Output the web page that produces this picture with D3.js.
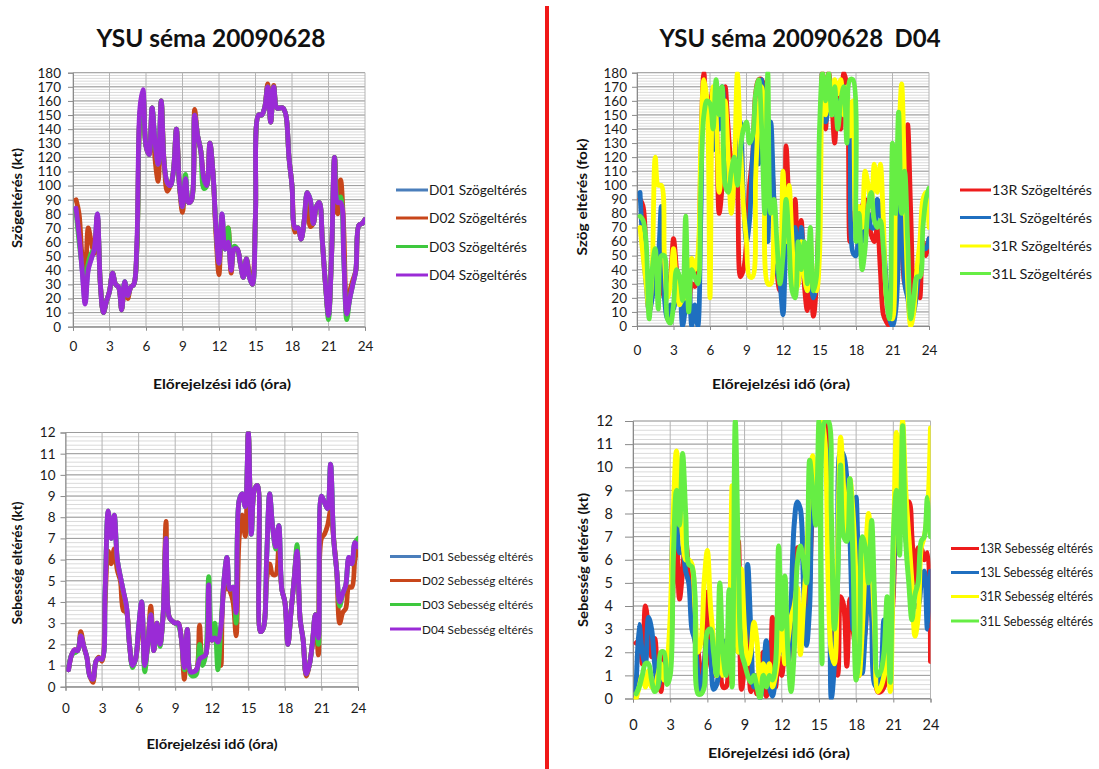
<!DOCTYPE html>
<html>
<head>
<meta charset="utf-8">
<script src="https://cdn.jsdelivr.net/npm/d3@7"></script>
<style>
  body { margin: 0; background: #fff; }
  svg { display: block; font-family: Lato, "Open Sans", "DejaVu Sans", sans-serif; }
</style>
</head>
<body>
<svg id="chart" width="1099" height="769"></svg>
<script>
// Forecast time axis: one sample every 15 minutes, 00:15 .. 24:00
const hours = d3.range(1, 97).map(i => i / 4);
const hourTicks = [0, 3, 6, 9, 12, 15, 18, 21, 24];
const angleTicks = [0, 10, 20, 30, 40, 50, 60, 70, 80, 90, 100, 110, 120, 130, 140, 150, 160, 170, 180];
const speedTicks = [0, 1, 2, 3, 4, 5, 6, 7, 8, 9, 10, 11, 12];

// ---- Direction error per domain (D01..D04) ----
const d01Angle = [
  84, 66, 41, 17, 41, 48, 55, 80, 30, 10, 18, 25,
  38, 30, 28, 12, 32, 22, 28, 30, 55, 150, 165, 128,
  122, 155, 130, 115, 160, 115, 102, 100, 110, 140, 100, 85,
  105, 88, 90, 150, 135, 125, 105, 100, 130, 110, 70, 45,
  80, 55, 60, 40, 55, 55, 45, 35, 48, 35, 30, 80,
  150, 150, 155, 170, 145, 170, 155, 155, 155, 150, 120, 100,
  70, 70, 62, 75, 95, 90, 73, 85, 88, 60, 30, 8,
  50, 120, 88, 88, 50, 9, 20, 30, 40, 72, 73, 76
];
const d02Angle = [
  90, 80, 50, 38, 70, 60, 52, 78, 30, 10, 18, 25,
  38, 30, 28, 12, 30, 20, 28, 30, 55, 150, 165, 128,
  122, 155, 118, 103, 160, 115, 96, 100, 110, 140, 100, 81,
  100, 88, 90, 154, 135, 125, 105, 100, 130, 110, 65, 37,
  72, 60, 70, 38, 55, 55, 45, 35, 48, 38, 30, 80,
  150, 150, 155, 172, 145, 171, 155, 155, 155, 150, 120, 100,
  67, 70, 62, 75, 95, 71, 73, 85, 88, 60, 30, 8,
  50, 120, 80, 104, 70, 9, 25, 33, 40, 72, 73, 76
];
const d03Angle = [
  82, 60, 42, 28, 45, 52, 55, 78, 30, 10, 18, 25,
  38, 30, 28, 12, 32, 22, 28, 30, 55, 150, 165, 128,
  122, 155, 130, 115, 160, 115, 102, 100, 110, 140, 100, 85,
  108, 88, 90, 150, 135, 125, 98, 100, 130, 110, 70, 45,
  78, 55, 70, 42, 57, 55, 45, 35, 48, 35, 30, 80,
  150, 150, 155, 170, 145, 170, 155, 155, 155, 150, 120, 100,
  70, 70, 62, 75, 95, 90, 73, 85, 88, 60, 30, 5,
  50, 120, 88, 92, 50, 5, 20, 30, 40, 72, 73, 76
];
const d04Angle = [
  84, 65, 40, 16, 40, 48, 55, 80, 30, 10, 18, 25,
  38, 30, 28, 12, 32, 22, 28, 30, 60, 155, 168, 128,
  122, 155, 130, 115, 160, 115, 102, 100, 110, 140, 100, 85,
  105, 88, 90, 150, 135, 125, 105, 100, 130, 110, 70, 45,
  80, 55, 60, 40, 55, 55, 45, 35, 48, 35, 30, 80,
  150, 150, 155, 170, 145, 170, 155, 155, 155, 150, 120, 100,
  70, 70, 62, 75, 95, 90, 73, 85, 88, 60, 30, 8,
  50, 120, 88, 88, 50, 9, 20, 30, 40, 72, 73, 76
];

// ---- Speed error per domain (D01..D04) ----
const d01Speed = [
  0.8, 1.5, 1.7, 1.7, 2.4, 1.9, 1.4, 0.5, 0.35, 1.2, 1.35, 1.3,
  4.5, 8.2, 7.0, 8.0, 6.0, 5.2, 4.5, 3.8, 2.0, 1.0, 1.3, 2.8,
  4.0, 1.0, 2.0, 3.4, 1.7, 3.0, 2.0, 3.3, 7.0, 3.3, 3.1, 3.0,
  3.0, 2.3, 0.9, 2.7, 0.7, 0.7, 0.8, 1.3, 1.4, 1.5, 4.8, 2.2,
  2.3, 2.1, 2.8, 5.0, 6.1, 4.6, 4.7, 3.5, 8.8, 9.1, 8.5, 12,
  7.2, 9.3, 9.5, 2.6, 2.8, 6.0, 9.1, 7.5, 6.6, 7.6, 4.6, 4.0,
  2.0, 3.5, 5.0, 6.4, 3.2, 2.2, 0.6, 1.0, 2.0, 3.4, 2.3, 9.0,
  8.7, 8.4, 10.5, 7.0, 5.5, 4.0, 4.4, 4.8, 6.1, 5.8, 6.8, 6.6
];
const d02Speed = [
  0.8, 1.5, 1.75, 1.7, 2.6, 1.9, 1.4, 0.5, 0.2, 1.2, 1.4, 1.2,
  4.0, 6.4, 5.8, 6.5, 5.5, 5.0, 3.6, 3.5, 2.0, 1.0, 1.3, 2.5,
  3.8, 1.0, 2.0, 3.8, 1.7, 3.0, 2.0, 3.3, 7.8, 3.3, 3.1, 3.0,
  3.0, 2.3, 0.35, 2.7, 0.7, 0.7, 0.8, 2.9, 1.4, 1.5, 4.6, 2.2,
  2.3, 2.1, 1.0, 4.5, 4.7, 4.5, 4.0, 2.4, 7.0, 8.1, 7.1, 12,
  7.5, 9.3, 9.5, 2.6, 2.8, 5.0, 5.8, 5.3, 5.3, 6.5, 4.6, 4.0,
  2.0, 3.5, 5.0, 6.4, 3.2, 2.2, 0.5, 1.0, 2.0, 3.4, 1.5, 7.0,
  7.2, 7.6, 8.3, 7.0, 5.5, 3.0, 3.5, 3.7, 4.7, 4.7, 6.0, 6.6
];
const d03Speed = [
  0.8, 1.5, 1.6, 1.7, 2.4, 1.9, 1.4, 0.5, 0.35, 1.2, 1.35, 1.3,
  4.5, 8.3, 7.0, 8.1, 6.0, 5.2, 4.5, 3.8, 2.0, 0.9, 1.3, 2.8,
  4.0, 0.7, 2.0, 3.4, 1.7, 3.0, 1.9, 3.3, 7.0, 3.3, 3.1, 3.0,
  2.9, 2.3, 0.8, 2.7, 0.6, 0.5, 0.6, 2.0, 1.0, 1.5, 5.2, 2.2,
  3.0, 0.8, 2.8, 5.0, 6.1, 4.6, 4.7, 3.0, 8.8, 9.1, 8.5, 12,
  7.2, 9.3, 9.5, 2.6, 2.8, 6.0, 9.1, 7.5, 6.5, 7.6, 4.6, 4.0,
  2.0, 3.5, 5.0, 6.7, 3.2, 2.2, 0.6, 1.0, 2.0, 3.4, 2.0, 9.0,
  8.7, 8.4, 10.5, 7.0, 5.5, 3.8, 4.4, 4.8, 6.0, 5.8, 6.8, 7.0
];
const d04Speed = [
  0.8, 1.5, 1.75, 1.7, 2.4, 1.9, 1.4, 0.5, 0.35, 1.2, 1.35, 1.3,
  4.5, 8.3, 7.0, 8.1, 6.0, 5.2, 4.5, 3.8, 2.0, 1.0, 1.3, 2.8,
  4.0, 1.0, 2.0, 3.4, 1.7, 3.0, 2.0, 3.3, 7.0, 3.3, 3.1, 3.0,
  3.0, 2.3, 0.9, 2.7, 0.7, 0.7, 0.8, 1.3, 1.4, 1.5, 4.8, 2.2,
  2.3, 2.1, 2.8, 5.0, 6.1, 4.6, 4.7, 3.5, 8.8, 9.1, 8.5, 12,
  7.2, 9.3, 9.5, 2.6, 2.8, 6.0, 9.1, 7.5, 6.6, 7.6, 4.6, 4.0,
  2.0, 3.5, 5.0, 6.4, 3.2, 2.2, 0.6, 1.0, 2.0, 3.4, 2.3, 9.0,
  8.7, 8.4, 10.5, 7.0, 5.5, 4.0, 4.4, 4.8, 6.1, 5.8, 6.8, 6.6
];

// ---- Direction error per runway (D04) ----
const r13RAngle = [
  90, 85, 50, 10, 25, 45, 50, 40, 20, 25, 35, 62,
  40, 20, 25, 20, 15, 30, 28, 40, 120, 180, 160, 160,
  168, 150, 80, 100, 170, 140, 120, 118, 100, 35, 40, 60,
  100, 120, 165, 175, 175, 150, 100, 120, 90, 40, 25, 30,
  128, 80, 30, 90, 40, 75, 30, 11, 30, 7, 30, 100,
  180, 140, 180, 160, 130, 170, 140, 180, 170, 60, 80, 75,
  80, 85, 90, 80, 65, 60, 70, 40, 8, 3, 0, 10,
  40, 110, 60, 30, 143, 80, 20, 40, 20, 60, 50, 62
];
const r13LAngle = [
  95, 55, 30, 10, 20, 40, 50, 85, 20, 5, 15, 12,
  40, 30, 0, 15, 35, 0, 15, 0, 80, 170, 160, 150,
  125, 165, 140, 170, 140, 100, 110, 110, 120, 145, 90, 60,
  75, 120, 140, 115, 175, 130, 60, 145, 90, 40, 30, 8,
  60, 80, 40, 70, 30, 70, 40, 25, 30, 20, 30, 100,
  150, 145, 160, 170, 150, 160, 150, 170, 160, 140, 52, 50,
  70, 60, 80, 80, 70, 70, 90, 80, 60, 30, 5, 0,
  10, 50, 140, 30, 20, 5, 10, 25, 45, 55, 55, 62
];
const r31RAngle = [
  70, 50, 30, 10, 40, 120, 100, 100, 50, 20, 30, 55,
  30, 15, 20, 20, 40, 48, 40, 50, 130, 175, 160, 20,
  170, 150, 95, 120, 160, 120, 80, 110, 180, 130, 85, 60,
  35, 35, 105, 150, 170, 140, 30, 30, 80, 50, 40, 110,
  60, 100, 60, 25, 30, 60, 35, 25, 60, 30, 25, 50,
  170, 150, 170, 150, 175, 165, 175, 150, 170, 135, 160, 70,
  85, 70, 110, 100, 85, 115, 95, 115, 75, 20, 10, 5,
  90, 130, 172, 100, 30, 0, 10, 40, 60, 90, 95, 70
];
const r31LAngle = [
  78, 75, 60, 5, 40, 55, 12, 50, 50, 5, 2, 15,
  40, 35, 18, 78, 10, 40, 35, 30, 100, 150, 160, 158,
  140, 175, 150, 170, 100, 95, 110, 120, 100, 125, 140, 145,
  130, 135, 165, 175, 140, 80, 180, 80, 90, 60, 30, 50,
  90, 60, 25, 20, 60, 40, 60, 30, 70, 25, 35, 140,
  180, 160, 180, 150, 170, 140, 160, 170, 130, 175, 175, 60,
  80, 40, 55, 85, 95, 75, 70, 75, 55, 20, 5, 130,
  80, 152, 80, 110, 60, 5, 20, 35, 35, 70, 90, 98
];

// ---- Speed error per runway (D04) ----
const r13RSpeed = [
  2.4, 2.5, 1.5, 4.0, 3.0, 1.8, 2.6, 1.0, 0.3, 1.9, 1.2, 2.0,
  5.0, 7.5, 4.3, 5.5, 6.8, 5.5, 4.5, 2.5, 2.0, 1.0, 1.5, 4.6,
  1.5, 1.0, 1.5, 3.0, 0.5, 0.5, 2.0, 4.0, 4.5, 6.8, 0.4, 1.5,
  3.7, 0.3, 1.0, 0.2, 0.5, 2.0, 0.1, 0.5, 3.5, 0.5, 1.8, 1.0,
  2.0, 1.5, 3.5, 5.0, 6.5, 6.5, 6.0, 3.0, 5.0, 8.0, 8.5, 9.0,
  12, 12, 8.0, 5.0, 1.5, 1.0, 4.4, 4.0, 1.4, 4.3, 3.0, 2.0,
  1.0, 2.0, 3.0, 5.0, 5.0, 2.0, 0.3, 0.3, 0.5, 1.0, 2.5, 4.5,
  9.0, 10, 11, 8.5, 8.5, 7.0, 5.0, 6.5, 6.5, 6.0, 6.3, 1.6
];
const r13LSpeed = [
  0.3, 3.2, 2.0, 1.5, 3.5, 3.0, 1.5, 0.5, 1.0, 1.5, 1.0, 1.5,
  7.5, 8.0, 6.3, 6.5, 5.5, 5.0, 3.0, 2.5, 1.0, 0.2, 1.5, 2.5,
  2.0, 0.4, 0.6, 1.5, 2.0, 2.5, 1.5, 2.0, 3.0, 2.0, 3.7, 1.5,
  5.8, 3.0, 0.5, 1.0, 0.0, 1.0, 2.5, 0.5, 0.1, 1.0, 3.0, 2.0,
  3.0, 1.5, 4.0, 7.5, 8.5, 8.2, 5.0, 2.3, 4.0, 8.5, 9.0, 8.0,
  12, 11, 10.3, 0.0, 1.5, 5.0, 10.7, 10.5, 9.5, 7.0, 3.0, 8.7,
  4.0, 1.1, 3.0, 5.0, 3.5, 0.6, 0.5, 1.0, 3.4, 2.5, 3.0, 5.0,
  9.5, 10.3, 9.0, 7.0, 6.0, 5.0, 4.0, 4.0, 5.0, 5.5, 3.0, 5.5
];
const r31RSpeed = [
  0.0, 0.5, 1.0, 0.5, 1.2, 0.5, 0.5, 1.0, 1.5, 0.8, 1.5, 3.5,
  8.0, 10.7, 9.0, 7.0, 6.0, 6.0, 5.8, 4.0, 2.0, 2.5, 5.1, 6.4,
  4.0, 2.5, 1.0, 2.5, 1.0, 2.0, 3.0, 9.2, 4.0, 2.0, 5.6, 3.0,
  1.5, 2.0, 3.3, 2.5, 0.5, 1.5, 1.0, 1.5, 0.5, 1.0, 2.0, 3.8,
  1.5, 2.5, 3.5, 4.0, 4.8, 1.9, 4.0, 6.0, 9.0, 10.5, 7.8, 9.0,
  12, 11, 5.0, 2.0, 1.5, 6.0, 11.3, 9.0, 7.0, 9.5, 8.0, 5.0,
  1.0, 3.0, 6.0, 8.0, 6.0, 3.0, 0.3, 0.5, 1.0, 2.5, 0.3, 6.0,
  11.5, 8.0, 12, 9.0, 7.0, 5.0, 2.7, 3.5, 6.5, 7.0, 8.0, 11.7
];
const r31LSpeed = [
  0.2, 0.5, 1.0, 1.5, 1.5, 0.8, 0.3, 0.5, 2.0, 2.0, 0.6, 1.0,
  6.0, 9.0, 7.5, 10.6, 8.0, 5.8, 5.7, 4.5, 0.2, 0.2, 0.5, 2.9,
  3.0, 2.0, 1.0, 5.0, 2.0, 1.0, 4.7, 0.5, 12, 6.0, 2.0, 1.5,
  1.0, 0.7, 1.0, 0.5, 0.0, 1.0, 0.5, 1.0, 0.8, 1.5, 6.6, 3.0,
  5.3, 2.0, 0.3, 2.0, 5.8, 6.6, 6.0, 5.0, 10.3, 9.0, 7.5, 12,
  1.5, 12, 12, 8.0, 3.0, 5.0, 10.1, 7.0, 6.8, 9.5, 6.0, 0.8,
  2.0, 7.0, 6.5, 5.0, 7.7, 4.0, 1.0, 1.2, 2.0, 4.4, 0.7, 7.0,
  9.0, 6.2, 11.8, 6.8, 5.0, 3.4, 4.5, 5.0, 6.8, 7.0, 8.7, 7.0
];

const domainColors = ["#4a7ebb", "#c8461a", "#3ec83e", "#9a2bd6"];
const runwayColors = ["#ee1c1c", "#1f6fc0", "#ffff00", "#66ee44"];

const svg = d3.select("#chart");

// Divider between the two halves
svg.append("rect")
  .attr("x", 545).attr("y", 6).attr("width", 4).attr("height", 763)
  .attr("fill", "#f01818");

// Titles
svg.append("text").attr("x", 211).attr("y", 47).attr("text-anchor", "middle")
  .attr("font-size", 24).attr("font-weight", 700).attr("fill", "#111")
  .attr("textLength", 229).attr("lengthAdjust", "spacingAndGlyphs")
  .text("YSU séma 20090628");
svg.append("text").attr("x", 800).attr("y", 47).attr("text-anchor", "middle")
  .attr("font-size", 24).attr("font-weight", 700).attr("fill", "#111")
  .attr("textLength", 281).attr("lengthAdjust", "spacingAndGlyphs")
  .attr("xml:space", "preserve")
  .text("YSU séma 20090628  D04");

let clipId = 0;
function drawPanel(cfg) {
  const x = d3.scaleLinear().domain([0, 24]).range([cfg.x0, cfg.x1]);
  const y = d3.scaleLinear().domain([0, cfg.yMax]).range([cfg.y1, cfg.y0]);
  const g = svg.append("g");

  // minor horizontal grid
  const nMinor = Math.round(cfg.yMax / cfg.minor);
  g.append("g").selectAll("line")
    .data(d3.range(0, nMinor + 1).map(i => i * cfg.minor))
    .join("line")
    .attr("x1", cfg.x0).attr("x2", cfg.x1)
    .attr("y1", d => y(d)).attr("y2", d => y(d))
    .attr("stroke", "#dadada").attr("stroke-width", 1);
  // major horizontal grid
  g.append("g").selectAll("line")
    .data(cfg.yTicks)
    .join("line")
    .attr("x1", cfg.x0).attr("x2", cfg.x1)
    .attr("y1", d => y(d)).attr("y2", d => y(d))
    .attr("stroke", "#9c9c9c").attr("stroke-width", 1);
  // vertical grid
  g.append("g").selectAll("line")
    .data(hourTicks)
    .join("line")
    .attr("x1", d => x(d)).attr("x2", d => x(d))
    .attr("y1", cfg.y0).attr("y2", cfg.y1)
    .attr("stroke", "#b4b4b4").attr("stroke-width", 1);

  // axes
  const yAxis = g.append("g").attr("transform", `translate(${cfg.x0},0)`)
    .call(d3.axisLeft(y).tickValues(cfg.yTicks).tickSize(cfg.tickLen).tickPadding(cfg.yPad).tickFormat(d3.format("d")));
  const xAxis = g.append("g").attr("transform", `translate(0,${cfg.y1})`)
    .call(d3.axisBottom(x).tickValues(hourTicks).tickSize(4).tickPadding(cfg.xPad).tickFormat(d3.format("d")));
  [yAxis, xAxis].forEach(a => {
    a.select(".domain").attr("stroke", "#8a8a8a");
    a.selectAll(".tick line").attr("stroke", "#8a8a8a");
    a.selectAll("text").attr("font-family", "Lato, 'Open Sans', sans-serif")
      .attr("font-size", cfg.tickFont).attr("fill", "#1a1a1a");
  });

  // series lines
  const id = "clip" + (clipId++);
  svg.append("clipPath").attr("id", id).append("rect")
    .attr("x", cfg.x0).attr("y", cfg.y0 - 1)
    .attr("width", cfg.x1 - cfg.x0).attr("height", cfg.y1 - cfg.y0 + 2);
  const line = d3.line()
    .x((d, i) => x(hours[i]))
    .y(d => y(d))
    .curve(d3.curveCatmullRom.alpha(0.5));
  const lg = g.append("g").attr("clip-path", `url(#${id})`);
  cfg.series.forEach((s, i) => {
    lg.append("path").attr("d", line(s.values))
      .attr("fill", "none").attr("stroke", cfg.colors[i])
      .attr("stroke-width", cfg.lw).attr("stroke-linejoin", "round").attr("stroke-linecap", "round");
  });

  // axis titles
  svg.append("text")
    .attr("transform", `translate(${cfg.yTitle[0]},${cfg.yTitle[1]}) rotate(-90)`)
    .attr("text-anchor", "middle").attr("dominant-baseline", "central")
    .attr("font-size", 13.5).attr("font-weight", 700).attr("fill", "#111")
    .attr("textLength", cfg.yTitle[2]).attr("lengthAdjust", "spacingAndGlyphs")
    .text(cfg.yLabel);
  svg.append("text")
    .attr("x", cfg.xTitle[0]).attr("y", cfg.xTitle[1])
    .attr("text-anchor", "middle").attr("dominant-baseline", "central")
    .attr("font-size", 14).attr("font-weight", 700).attr("fill", "#111")
    .attr("textLength", cfg.xTitle[2]).attr("lengthAdjust", "spacingAndGlyphs")
    .text("Előrejelzési idő (óra)");

  // legend
  const leg = svg.append("g");
  cfg.series.forEach((s, i) => {
    const ly = cfg.legend.y[i];
    leg.append("line")
      .attr("x1", cfg.legend.x0).attr("x2", cfg.legend.x1)
      .attr("y1", ly).attr("y2", ly)
      .attr("stroke", cfg.colors[i]).attr("stroke-width", 3);
    leg.append("text")
      .attr("x", cfg.legend.x1 + 1).attr("y", ly)
      .attr("dominant-baseline", "central")
      .attr("font-size", cfg.legend.font).attr("fill", "#1a1a1a")
      .attr("textLength", cfg.legend.w).attr("lengthAdjust", "spacingAndGlyphs")
      .text(s.name);
  });
}

drawPanel({
  x0: 73, x1: 365, y0: 72.7, y1: 326.7, yMax: 180, minor: 2,
  yTicks: angleTicks, tickLen: 5, yPad: 7, xPad: 11, tickFont: 13.5, lw: 4.8,
  colors: domainColors,
  series: [
    { name: "D01 Szögeltérés", values: d01Angle },
    { name: "D02 Szögeltérés", values: d02Angle },
    { name: "D03 Szögeltérés", values: d03Angle },
    { name: "D04 Szögeltérés", values: d04Angle }
  ],
  yLabel: "Szögeltérés (kt)", yTitle: [17, 198, 100], xTitle: [222, 383, 138],
  legend: { x0: 396, x1: 428, y: [190, 218, 246.5, 275], font: 13.5, w: 98 }
});

drawPanel({
  x0: 637, x1: 929, y0: 72.7, y1: 326, yMax: 180, minor: 2,
  yTicks: angleTicks, tickLen: 5, yPad: 5, xPad: 15, tickFont: 13.5, lw: 4.8,
  colors: runwayColors,
  series: [
    { name: "13R Szögeltérés", values: r13RAngle },
    { name: "13L Szögeltérés", values: r13LAngle },
    { name: "31R Szögeltérés", values: r31RAngle },
    { name: "31L Szögeltérés", values: r31LAngle }
  ],
  yLabel: "Szög eltérés (fok)", yTitle: [582, 197, 117], xTitle: [781, 383, 138],
  legend: { x0: 960, x1: 991, y: [190, 217.5, 246, 273.5], font: 13.5, w: 100 }
});

drawPanel({
  x0: 65.5, x1: 358, y0: 432.5, y1: 686.7, yMax: 12, minor: 0.2,
  yTicks: speedTicks, tickLen: 5, yPad: 5, xPad: 13, tickFont: 13.5, lw: 4.8,
  colors: domainColors,
  series: [
    { name: "D01 Sebesség eltérés", values: d01Speed },
    { name: "D02 Sebesség eltérés", values: d02Speed },
    { name: "D03 Sebesség eltérés", values: d03Speed },
    { name: "D04 Sebesség eltérés", values: d04Speed }
  ],
  yLabel: "Sebesség eltérés (kt)", yTitle: [17, 563, 123], xTitle: [212, 743, 131],
  legend: { x0: 390, x1: 421, y: [556.5, 580.5, 604.5, 629], font: 12, w: 111 }
});

drawPanel({
  x0: 633, x1: 930.5, y0: 421, y1: 698.5, yMax: 12, minor: 0.2,
  yTicks: speedTicks, tickLen: 8, yPad: 12, xPad: 17, tickFont: 14.5, lw: 5,
  colors: runwayColors,
  series: [
    { name: "13R Sebesség eltérés", values: r13RSpeed },
    { name: "13L Sebesség eltérés", values: r13LSpeed },
    { name: "31R Sebesség eltérés", values: r31RSpeed },
    { name: "31L Sebesség eltérés", values: r31LSpeed }
  ],
  yLabel: "Sebesség eltérés (kt)", yTitle: [583, 560, 134], xTitle: [779, 752, 142],
  legend: { x0: 951, x1: 979, y: [548.5, 572.5, 596.5, 621], font: 12.5, w: 113 }
});
</script>
</body>
</html>
